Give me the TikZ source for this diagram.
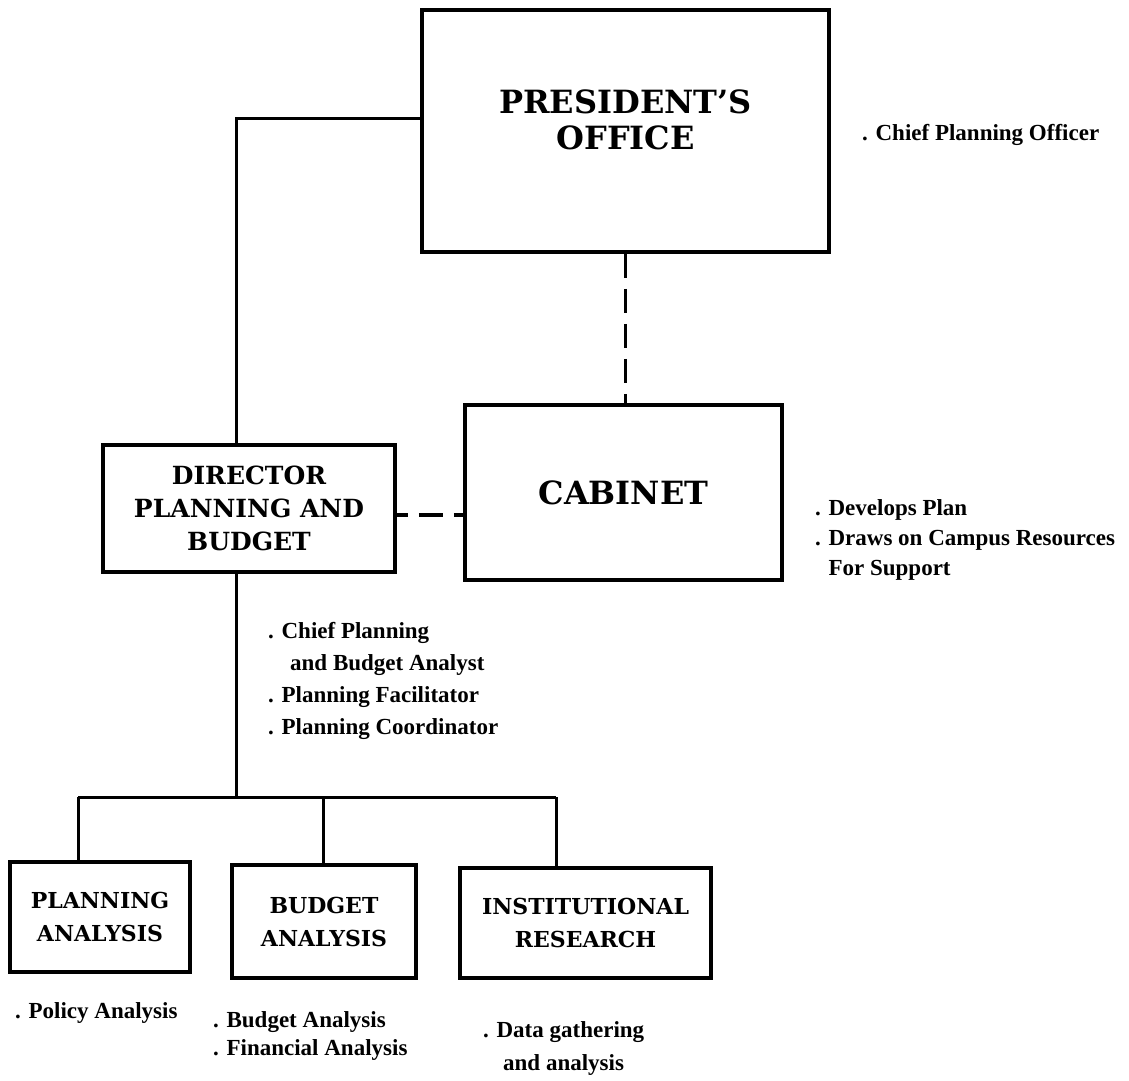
\documentclass[tikz,border=0pt]{standalone}
\usepackage{fontspec}
\setmainfont{DejaVu Serif}
\newfontfamily\notefont{Liberation Serif}
\usetikzlibrary{%
                positioning}

\tikzset{
  orgbox/.style={draw, rectangle, line width=3.6pt, inner sep=0pt, align=center},
  bigname/.style={font=\bfseries\fontsize{32}{36}\selectfont},
  midname/.style={font=\bfseries\fontsize{25}{33}\selectfont},
  smallname/.style={font=\bfseries\fontsize{22}{33}\selectfont},
  link/.style={line width=3pt},
  dashlink/.style={line width=3.4pt, dash pattern=on 24pt off 11pt},
  note/.style={anchor=west, align=left, inner sep=0pt, font=\notefont\bfseries\fontsize{23}{31}\selectfont}
}

\begin{document}
\begin{tikzpicture}[x=1pt,y=-1pt]
\useasboundingbox (0,0) rectangle (1129,1080);
%\draw[help lines] (0,0) grid (1129,1080);
\node[orgbox, minimum width=407pt, minimum height=242pt,
      label={[bigname, align=center, yshift=11pt]center:{PRESIDENT'S\\OFFICE}}] (pres) at (625.5,131) {};
\node[orgbox, midname, minimum width=292pt, minimum height=127pt] (dir) at (249,508.5) {DIRECTOR\\PLANNING AND\\BUDGET};
\node[orgbox, bigname, minimum width=317pt, minimum height=175pt] (cab) at (623.5,492.5) {CABINET};
\node[orgbox, smallname, minimum width=180pt, minimum height=110pt] (plan) at (100,917) {PLANNING\\ANALYSIS};
\node[orgbox, smallname, minimum width=184pt, minimum height=113pt] (bud) at (324,921.5) {BUDGET\\ANALYSIS};
\node[orgbox, smallname, minimum width=251pt, minimum height=110pt] (inst) at (585.5,923) {INSTITUTIONAL\\RESEARCH};

\coordinate (trunk) at (236,797);
\coordinate (jplan) at (78,797);
\coordinate (jbud) at (323,797);
\coordinate (jinst) at (556,797);

\draw[link] (pres.west |- 0,118) -| (trunk |- dir.north);
\draw[link] (trunk |- dir.south) -- (trunk);
\draw[link] (jplan) -- (jinst);
\draw[link] (jplan) -- (jplan |- plan.north);
\draw[link] (jbud) -- (jbud |- bud.north);
\draw[link] (jinst) -- (jinst |- inst.north);
\draw[dashlink, dash phase=0pt] (pres.south) -- (pres.south |- cab.north);
\draw[dashlink, dash phase=13pt] (dir.east |- 0,515) -- (cab.west |- 0,515);

\node[note] (presnote) at (862,135) {. Chief Planning Officer};
\node[note, font=\notefont\bfseries\fontsize{23}{30}\selectfont] (cabnote) at (815,540) {. Develops Plan\\. Draws on Campus Resources\\\phantom{. }For Support};
\node[note, font=\notefont\bfseries\fontsize{23}{32}\selectfont] (dirnote) at (268,681) {. Chief Planning\\\hspace{22pt}and Budget Analyst\\. Planning Facilitator\\. Planning Coordinator};
\node[note] (plannote) at (15,1013) {. Policy Analysis};
\node[note, font=\notefont\bfseries\fontsize{23}{28}\selectfont] (budnote) at (213,1036) {. Budget Analysis\\. Financial Analysis};
\node[note, font=\notefont\bfseries\fontsize{23}{33}\selectfont] (instnote) at (483,1048) {. Data gathering\\\hspace{20pt}and analysis};
\end{tikzpicture}
\end{document}
